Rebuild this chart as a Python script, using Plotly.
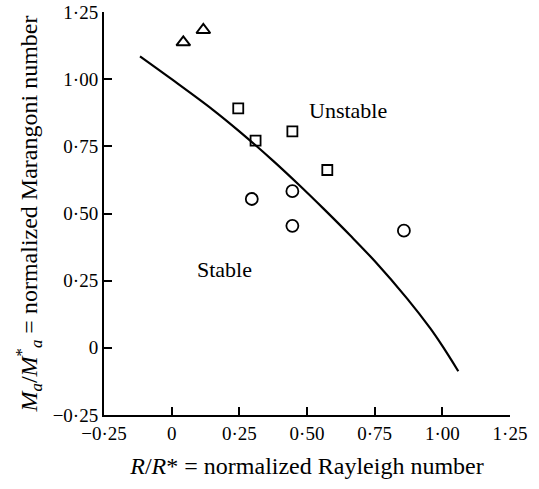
import plotly.graph_objects as go

# Neutral-stability curve
curve_x = [-0.117, 0.0, 0.15, 0.25, 0.375, 0.47, 0.56, 0.66, 0.75, 0.87, 0.955, 1.0, 1.059]
curve_y = [1.085, 1.000, 0.888, 0.806, 0.696, 0.607, 0.519, 0.418, 0.323, 0.183, 0.073, 0.007, -0.087]

# Experimental points
tri_x = [0.043, 0.117]
tri_y = [1.137, 1.183]
sq_x = [0.246, 0.310, 0.446, 0.575]
sq_y = [0.891, 0.771, 0.806, 0.662]
circ_x = [0.296, 0.446, 0.446, 0.858]
circ_y = [0.554, 0.583, 0.454, 0.436]

tick_vals = [-0.25, 0, 0.25, 0.5, 0.75, 1.0, 1.25]
tick_text = ["−0·25", "0", "0·25", "0·50", "0·75", "1·00", "1·25"]

region_labels = ["Unstable", "Stable"]
region_x = [0.65, 0.195]
region_y = [0.883, 0.293]

FONT = "Liberation Serif, Times New Roman, serif"

fig = go.Figure()
fig.add_trace(go.Scatter(x=curve_x, y=curve_y, mode="lines",
                         line=dict(color="black", width=2.2, shape="spline", smoothing=1.0),
                         showlegend=False))
fig.add_trace(go.Scatter(x=tri_x, y=tri_y, mode="markers",
                         marker=dict(symbol="triangle-up-open", size=12, color="black",
                                     line=dict(width=2, color="black")),
                         showlegend=False))
fig.add_trace(go.Scatter(x=sq_x, y=sq_y, mode="markers",
                         marker=dict(symbol="square-open", size=10, color="black",
                                     line=dict(width=1.8, color="black")),
                         showlegend=False))
fig.add_trace(go.Scatter(x=circ_x, y=circ_y, mode="markers",
                         marker=dict(symbol="circle-open", size=12, color="black",
                                     line=dict(width=1.8, color="black")),
                         showlegend=False))

for t, x, y in zip(region_labels, region_x, region_y):
    fig.add_annotation(x=x, y=y, text=t, showarrow=False,
                       font=dict(family=FONT, size=22, color="black"))

axis_common = dict(
    range=[-0.25, 1.25], tickvals=tick_vals, ticktext=tick_text,
    showline=True, linecolor="black", linewidth=2,
    ticks="inside", ticklen=8, tickwidth=1.5, tickcolor="black",
    showgrid=False, zeroline=False, automargin=False,
    tickfont=dict(family=FONT, size=19, color="black"),
)

fig.update_layout(
    width=539, height=489,
    margin=dict(l=104, r=29, t=12, b=74),
    plot_bgcolor="white", paper_bgcolor="white",
    xaxis=dict(**axis_common,
               title=dict(text="<i>R</i>/<i>R</i>* = normalized Rayleigh number",
                          font=dict(family=FONT, size=24, color="black"), standoff=14)),
    yaxis=dict(**axis_common,
               title=dict(text="<i>M<sub>a</sub></i>/<i>M</i><sup>*</sup><sub><i>a</i></sub> = normalized Marangoni number",
                          font=dict(family=FONT, size=24, color="black"), standoff=8)),
)

fig.write_html("out.html")
